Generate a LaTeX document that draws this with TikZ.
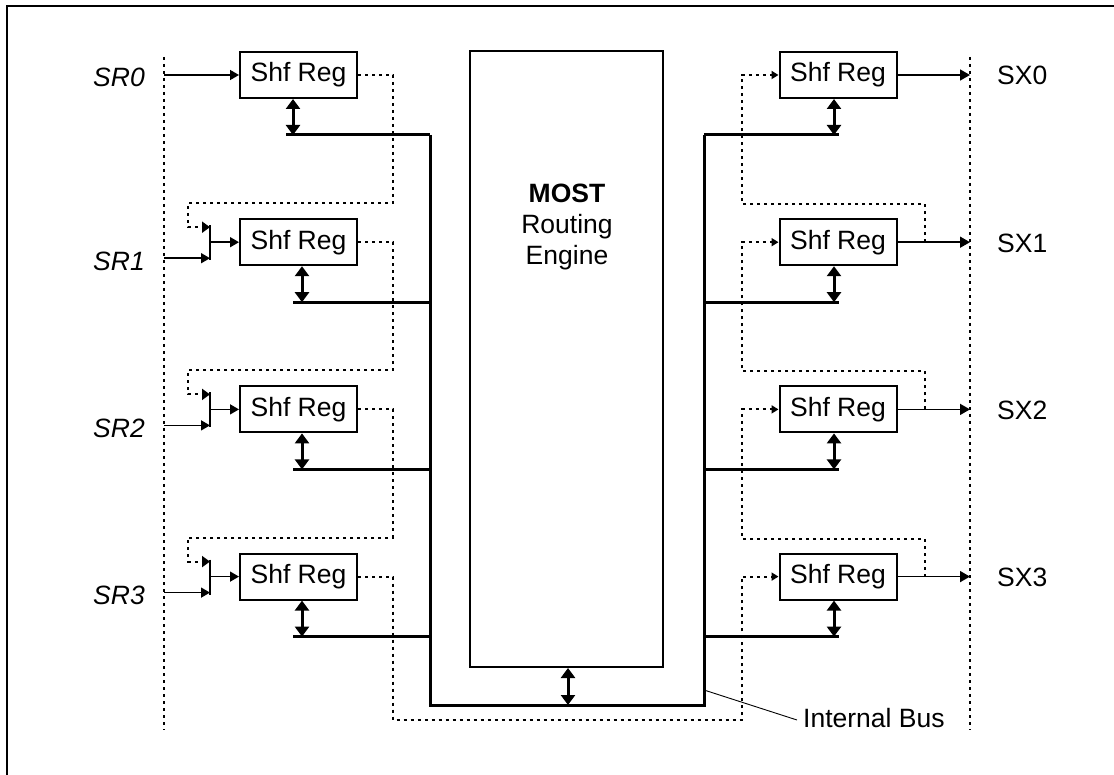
\documentclass[tikz,border=0pt]{standalone}
\usepackage{fontspec}
\setmainfont{Liberation Sans}
\usetikzlibrary{arrows.meta}
\newcommand\dfs{\fontsize{26.5}{31}\selectfont}
\begin{document}
\begin{tikzpicture}[x=1pt,y=-1pt,
  reg/.style={draw,line width=2pt,minimum width=117pt,minimum height=46pt,inner sep=0pt,font=\dfs},
  lbl/.style={font=\dfs,inner sep=0pt},
  bus/.style={line width=3pt},
  dotl/.style={line width=2pt,dash pattern=on 3pt off 4pt},
  dtip/.style={-{Triangle[length=7pt,width=8pt]}},
  mtip/.style={-{Triangle[length=8pt,width=11pt]}},
  sig/.style={line width=1.6pt,-{Triangle[length=9pt,width=10pt]}},
  sigo/.style={line width=1.6pt,-{Triangle[length=10pt,width=11pt]}},
  muxl/.style={line width=2.5pt},
  bi/.style={line width=3pt,{Triangle[length=10pt,width=14pt]}-{Triangle[length=10pt,width=14pt]}},
  leader/.style={line width=0.9pt}]
\useasboundingbox (0,0) rectangle (1114,775);
% frame (only top and left edges visible)
\coordinate (fA) at (7,775);
\coordinate (fB) at (7,6);
\coordinate (fC) at (1114,6);
\draw[line width=2pt] (fA) -- (fB) -- (fC);
% boundary dotted lines
\coordinate (vlt) at (164,57);
\coordinate (vlb) at (164,730);
\coordinate (vrt) at (970,57);
\coordinate (vrb) at (970,730);
\draw[dotl] (vlt) -- (vlb);
\draw[dotl] (vrt) -- (vrb);
% routing engine
\node[draw,line width=2pt,minimum width=193pt,minimum height=616pt,inner sep=0pt] (eng) at (566.5,359) {};
\node[lbl,anchor=base] (most) at (567,203) {\textbf{MOST}};
\node[lbl,anchor=base] (rout) at (567,234) {Routing};
\node[lbl,anchor=base] (engn) at (567,265) {Engine};
% internal bus U
\coordinate (busTL) at (430,135);
\coordinate (busBL) at (430,705);
\coordinate (busBR) at (704,705);
\coordinate (busTR) at (704,135);
\draw[bus] (busTL) -- (busBL) -- (busBR) -- (busTR);
\coordinate (ea) at (568,705);
\draw[bi] (eng.south -| ea) -- (ea);
% registers
\foreach \i in {0,1,2,3} {
  \pgfmathsetmacro\yy{75+167.2*\i}
  \node[reg] (L\i) at (298.5,\yy) {Shf Reg};
  \node[reg] (R\i) at (838,\yy) {Shf Reg};
  % right side bus stubs and arrows
  \coordinate (rs\i) at (839,\yy+60);
  \coordinate (ra\i) at (834,\yy+60);
  \draw[bus] (rs\i -| busTR) -- (rs\i);
  \draw[bi] (R\i.south -| ra\i) -- (ra\i);
  % outputs
  \coordinate (sx\i) at (970,\yy);
  \draw[sigo] (R\i.east) -- (sx\i);
  \node[lbl,anchor=base west] (SX\i) at (997,\yy+10) {SX\i};
}
% left bus stubs
\coordinate (ls0) at (286,135);
\coordinate (la0) at (293,135);
\draw[bus] (ls0) -- (ls0 -| busTL);
\draw[bi] (L0.south -| la0) -- (la0);
\foreach \i in {1,2,3} {
  \pgfmathsetmacro\yy{75+167.2*\i}
  \coordinate (ls\i) at (293,\yy+60);
  \coordinate (la\i) at (302,\yy+60);
  \draw[bus] (ls\i) -- (ls\i -| busTL);
  \draw[bi] (L\i.south -| la\i) -- (la\i);
}
% left inputs
\coordinate (sr0) at (164,75);
\draw[sig] (sr0) -- (L0.west);
\node[lbl,anchor=base] (SR0) at (119,87) {\itshape SR0};
\foreach \i/\j in {1/0,2/1,3/2} {
  \pgfmathsetmacro\yy{75+167.2*\i}
  \coordinate (sr\i) at (164,\yy+16);
  \coordinate (mx\i) at (210,\yy);
  \coordinate (mt\i) at (210,\yy-17);
  \coordinate (mb\i) at (210,\yy+18);
  \coordinate (lf\i) at (393,\yy-39);
  \coordinate (lg\i) at (188,\yy-15);
  \coordinate (lm\i) at (210,\yy-15);
  \draw[sig] (sr\i) -- (sr\i -| mx\i);
  \draw[muxl] (mt\i) -- (mb\i);
  \draw[sig] (mx\i) -- (L\i.west);
  \draw[dotl,mtip] (L\j.east) -| (lf\i) -| (lg\i) -- (lm\i);
  \node[lbl,anchor=base] (SR\i) at (119,\yy+28) {\itshape SR\i};
}
% right chain
\foreach \i/\k in {0/1,1/2,2/3} {
  \pgfmathsetmacro\yk{75+167.2*\k}
  \coordinate (rt\i) at (925,\yk);
  \coordinate (rf\i) at (742,\yk-38);
  \draw[dotl,dtip] (rt\i) |- (rf\i) |- (R\i.west);
}
% bottom loop SR3 -> SX3
\coordinate (bl) at (393,720);
\coordinate (br) at (742,720);
\draw[dotl,dtip] (L3.east) -| (bl) -- (br) |- (R3.west);
% internal bus label
\coordinate (lb1) at (704,690);
\coordinate (lb2) at (797,720);
\draw[leader] (lb1) -- (lb2);
\node[lbl,anchor=base west] (ibus) at (803,727) {Internal Bus};
\end{tikzpicture}
\end{document}
